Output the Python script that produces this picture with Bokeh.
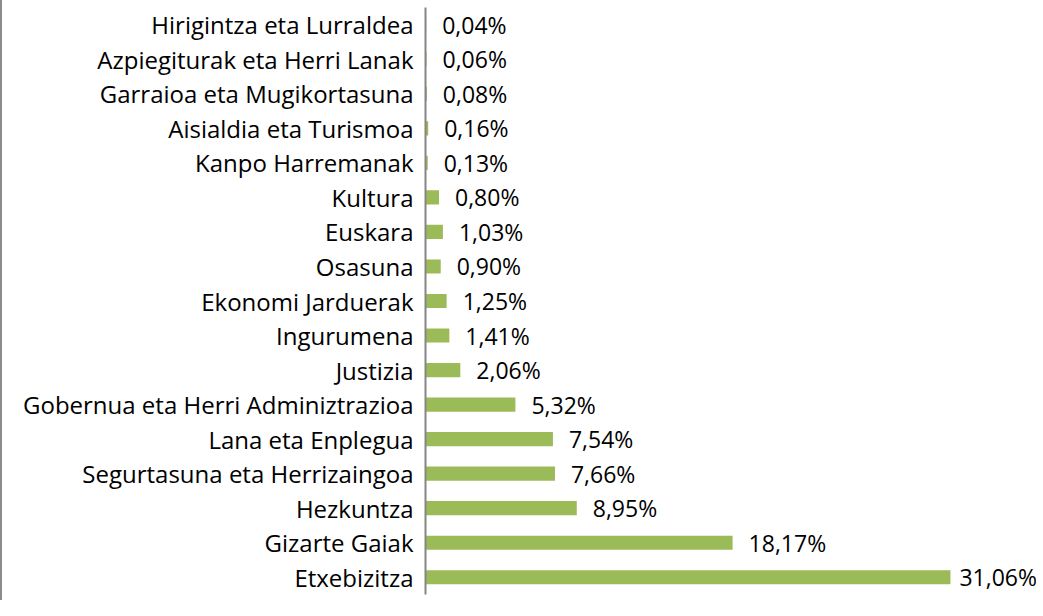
from bokeh.plotting import figure
from bokeh.models import ColumnDataSource, Range1d, FactorRange
from bokeh.core.properties import value
from bokeh.embed import file_html
from bokeh.resources import INLINE

# Data (top to bottom as shown)
categories = [
    "Hirigintza eta Lurraldea",
    "Azpiegiturak eta Herri Lanak",
    "Garraioa eta Mugikortasuna",
    "Aisialdia eta Turismoa",
    "Kanpo Harremanak",
    "Kultura",
    "Euskara",
    "Osasuna",
    "Ekonomi Jarduerak",
    "Ingurumena",
    "Justizia",
    "Gobernua eta Herri Adminiztrazioa",
    "Lana eta Enplegua",
    "Segurtasuna eta Herrizaingoa",
    "Hezkuntza",
    "Gizarte Gaiak",
    "Etxebizitza",
]
shares = [0.04, 0.06, 0.08, 0.16, 0.13, 0.80, 1.03, 0.90, 1.25, 1.41,
          2.06, 5.32, 7.54, 7.66, 8.95, 18.17, 31.06]

labels = [f"{v:.2f}".replace(".", ",") + "%" for v in shares]
vmax = max(shares)
offsets = [9 if v == vmax else 16 for v in shares]

src = ColumnDataSource(dict(cat=categories, val=shares, lab=labels, off=offsets))

FONT = "Open Sans"
BAR = "#9BBB59"

p = figure(
    width=1036, height=600,
    y_range=FactorRange(factors=list(reversed(categories)), range_padding=0),
    x_range=Range1d(0, 36.27),
    output_backend="svg", toolbar_location=None,
    x_axis_location=None,
    min_border_top=7, min_border_bottom=6, min_border_right=0, min_border_left=423,
)
p.styles = {"border-left": "2px solid #8c8c8c"}
p.outline_line_color = None
p.background_fill_color = "white"
p.border_fill_color = "white"
p.xgrid.visible = False
p.ygrid.visible = False

p.hbar(y="cat", right="val", left=0, height=0.41, source=src,
       fill_color=BAR, line_color=None)

p.text(x="val", y="cat", text="lab", x_offset="off", source=src,
       text_font=value(FONT), text_font_size="23px", text_color="#000000",
       text_baseline="middle", text_align="left")

ax = p.yaxis[0]
ax.axis_line_color = "#868686"
ax.axis_line_width = 2
ax.major_tick_line_color = None
ax.minor_tick_line_color = None
ax.major_tick_out = 0
ax.major_tick_in = 0
ax.major_label_standoff = 12
ax.major_label_text_font = FONT
ax.major_label_text_font_size = "24px"
ax.major_label_text_color = "#000000"

open("out.html", "w").write(file_html(p, INLINE))
